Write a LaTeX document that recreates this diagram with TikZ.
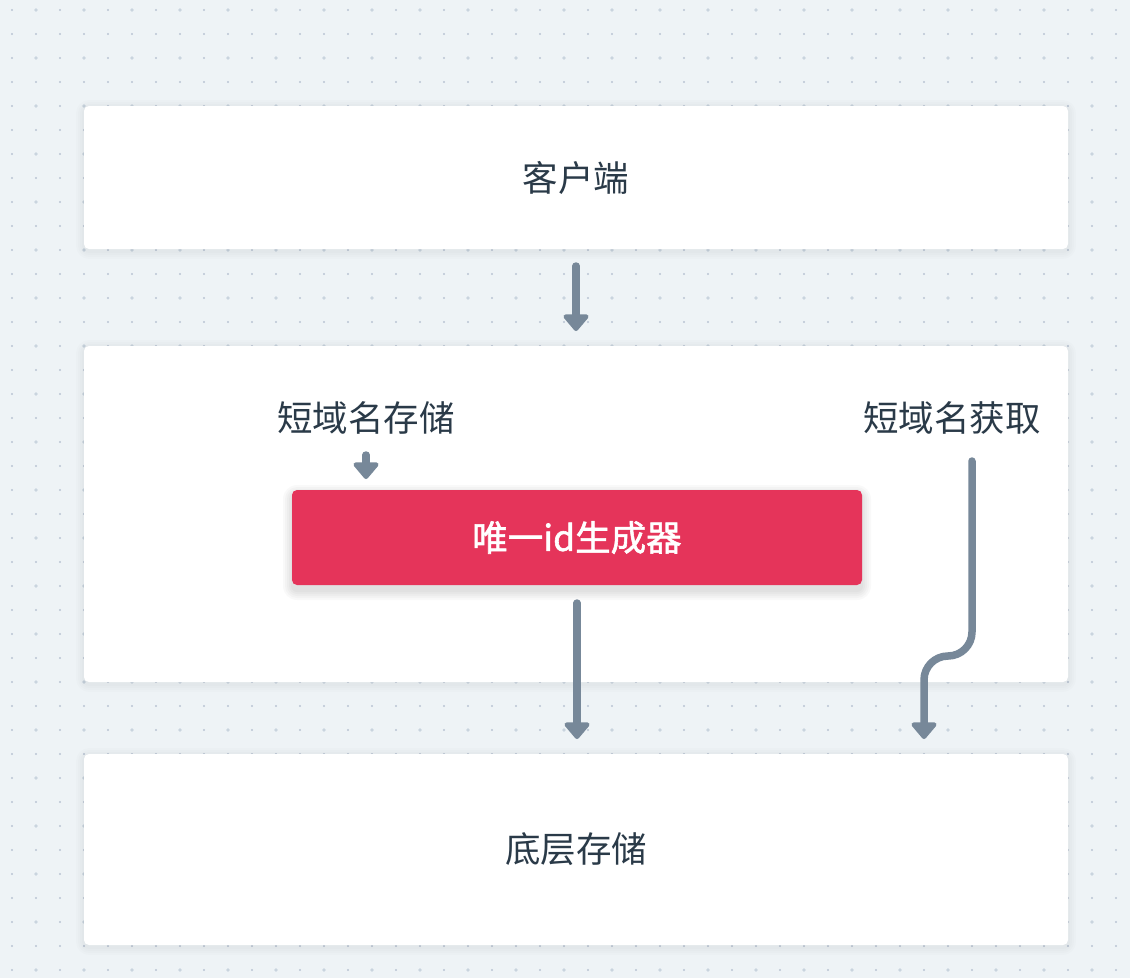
\documentclass[tikz,border=0pt]{standalone}
\usepackage{fontspec}
\setmainfont{Noto Sans CJK SC}
\usetikzlibrary{arrows.meta}
\definecolor{bgc}{HTML}{EEF3F6}
\definecolor{dotc}{HTML}{BAC4D3}
\definecolor{dotb}{HTML}{C9D4DE}
\definecolor{txt}{HTML}{2A3A48}
\definecolor{redc}{HTML}{E5345A}
\definecolor{arr}{HTML}{778899}
\tikzset{
  panel/.style={fill=white, draw=none, rounded corners=5pt, inner sep=0pt,
    text=txt, font=\fontsize{35.5}{42}\selectfont},
  redbox/.style={fill=redc, draw=none, rounded corners=5pt, inner sep=0pt,
    text=white, font=\fontsize{35.5}{42}\selectfont\addfontfeatures{FakeBold=1.6}},
  lbl/.style={text=txt, font=\fontsize{35.5}{42}\selectfont, inner sep=0pt},
  flow/.style={draw=arr, line width=7.5pt, line cap=round, line join=round,
    -{Triangle[width=29pt,length=18pt,round]}},
  softshadow/.style={fill=black, fill opacity=0.01, draw=none}
}
\begin{document}
\begin{tikzpicture}[x=1pt,y=-1pt]
\useasboundingbox (0,0) rectangle (1130,978);
\fill[bgc] (0,0) rectangle (1130,978);
\foreach \i in {0,...,46}{
  \foreach \j in {0,...,40}{
    \pgfmathtruncatemacro{\big}{(mod(\i,2)==1 && mod(\j,2)==0) ? 1 : 0}
    \ifnum\big=1
      \fill[dotb] (12+24*\i,10+24*\j) circle (1.9pt);
    \else
      \fill[dotc] (12+24*\i,10+24*\j) circle (1.2pt);
    \fi
  }
}
% soft shadows for panels
\foreach \d in {2,4,6,8}{
  \fill[softshadow, rounded corners=5pt+\d pt] (84-\d,108-\d) rectangle (1068+\d,251+\d);
  \fill[softshadow, rounded corners=5pt+\d pt] (84-\d,348-\d) rectangle (1068+\d,684+\d);
  \fill[softshadow, rounded corners=5pt+\d pt] (84-\d,756-\d) rectangle (1068+\d,947+\d);
}
\node[panel, minimum width=984pt, minimum height=143pt] (client) at (576,177.5) {客户端};
\node[panel, minimum width=984pt, minimum height=336pt] (svc) at (576,514) {};
\node[panel, minimum width=984pt, minimum height=191pt] (store) at (576,849.5) {底层存储};
% soft shadow for red box
\foreach \d in {1,3,5,7,9}{
  \fill[black, fill opacity=0.025, rounded corners=5pt+\d pt] (292-\d,494-\d) rectangle (862+\d,591+\d);
}
\node[redbox, minimum width=570pt, minimum height=95pt] (gen) at (577,537.5) {唯一id生成器};
\node[lbl] (save) at (366,418) {短域名存储};
\node[lbl] (get) at (952,418) {短域名获取};

\coordinate (a1s) at (576,266);
\coordinate (a1e) at (576,331);
\coordinate (a2s) at (366,455);
\coordinate (a2e) at (366,479);
\coordinate (a3s) at (577,603);
\coordinate (a3e) at (577,739);
\coordinate (a4s) at (972,461);
\coordinate (a4e) at (924,739);

\draw[flow] (a1s) -- (a1e);
\draw[flow] (a2s) -- (a2e);
\draw[flow] (a3s) -- (a3e);
\draw[flow, rounded corners=24pt] (a4s) -- (972,656) -- (924,656) -- (a4e);
\end{tikzpicture}
\end{document}
